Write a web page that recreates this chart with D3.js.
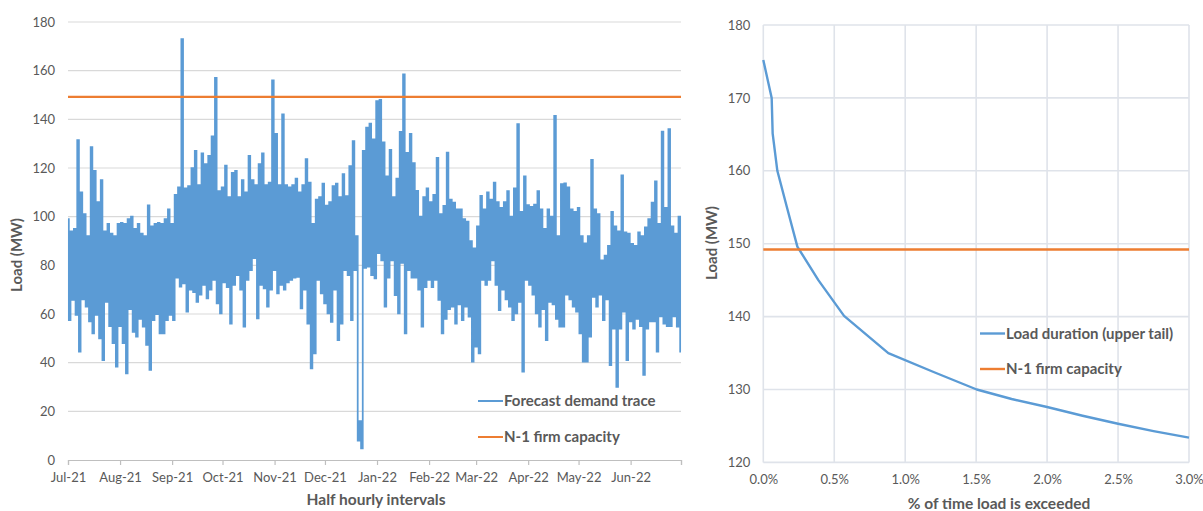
<!DOCTYPE html>
<html><head><meta charset="utf-8">
<script src="https://cdn.jsdelivr.net/npm/d3@7"></script>
<style>body{margin:0;background:#fff} text{font-family:Lato,"Open Sans",sans-serif}</style>
</head><body><svg id="c" width="1203" height="511"></svg>
<script>
// ---------- DATA ----------
const firmCapacity = 149.2;
const traceStart = "2021-07-01";
const traceEnd = "2022-07-01";
const binDays = 2;
// max load within each 2-day bin (MW)
const traceHigh = [99,94,95,131.5,110,101,92,128.6,118.8,106,
115,94,97,93,92,97,97.5,97,99,100,
95,97,93,92,104.6,96,97,97.5,97,99,
103,97,109,112,173,111.6,112.6,120,127,113,
126,121.6,125,133,157,110.5,112,121,108,118,
118.8,108,115,110,125,115,113,121.6,126,113,
114,156,134,113,142,113,112,113,115.6,110,
113,123.6,114,97,107,108,113.6,104.5,106,112.6,
113.6,108,117.5,108.4,120.8,131,92,16,127,136.6,
138.2,131.8,147.5,148,130.5,116.6,127.5,108,115.6,134.8,
158.5,126.2,134,122,110.6,100,108,111.6,106,109,
124.2,101,104.4,126.3,107,105.8,103,103,99,98,
90,87,96,108.5,103,110,107,114,106,103.6,
106,110.5,100,111.6,138,102,116.6,104.7,104,105,
110.5,103,95,103,100,141.4,92,113.4,113.7,112,
103,102,103.6,92,89,92,123.3,103,101,82,
84,88,102,96,94,117,93.5,93,88.8,88,
93.5,92,95.6,99,105.8,114.5,97,135,103.6,136,
96,93,100];
// min load within each 2-day bin (MW)
const traceLow = [57.5,65.8,59.6,44.5,66,63,57,52,59.6,50,
41,65,55,48,38.4,55,48,35.6,62,52.7,
50.7,58,54.8,47.3,37,57.5,60,52,52,57.5,
59.6,57.5,75,71.2,72.6,61,70,69,65,68,
72,66.4,70,74,64.4,60.3,73,71,56,72,
76,70,54.8,74,78,83,58.2,72,70.5,63,
70,78,68.5,72,70,73,74,75,75.3,62.3,
70,56,37.7,43.8,74,68.5,64.4,60.3,56.8,70,
49.3,56,78,76,57.5,78,8,4.8,79,79.5,
76,74.6,85,82,63,75,82,67.8,60.3,81,
52,78,75,75,70,54.8,71,74,71,74,
65.8,52,58,62,63,56,64,57.5,63,58.9,
40.4,46.6,43.8,74,72,74,82,72,61.6,70,
66,63,57.5,60.3,65,36.3,74,72,68,60.3,
54.8,62,49.3,65,64,58,54.8,54.8,68,66,
63,61,52,40.4,40.4,50.7,67,63,68,57.5,
66,39,54,30.1,54,61,41,57,54,58,
55,35,54,57,57,44.5,59,56,55,55,
59,54.8,44.5];
const leftYTicks = [0,20,40,60,80,100,120,140,160,180];
const leftSeries = ["Forecast demand trace","N-1 firm capacity"];

const durationPct  = [0, 0.059, 0.066, 0.099, 0.165, 0.24, 0.388, 0.569, 0.881, 1.2, 1.504, 1.75, 2.0, 2.25, 2.5, 2.75, 3.0];
const durationLoad = [175.2, 170, 165.1, 160, 155.1, 149.6, 145, 140.1, 135, 132.4, 130, 128.7, 127.6, 126.4, 125.3, 124.3, 123.4];
const rightXTicks = [0,0.5,1.0,1.5,2.0,2.5,3.0];
const rightYTicks = [120,130,140,150,160,170,180];
const rightSeries = ["Load duration (upper tail)","N-1 firm capacity"];

// ---------- STYLE ----------
const BLUE = "#5b9bd5", ORANGE = "#ed7d31", TXT = "#595959";
const svg = d3.select("#c");

// ---------- LEFT CHART ----------
const parse = d3.timeParse("%Y-%m-%d");
const t0 = parse(traceStart), t1 = parse(traceEnd);
const xL = d3.scaleTime().domain([t0, t1]).range([68, 681]);
const yL = d3.scaleLinear().domain([0, 180]).range([460, 22]);

const gL = svg.append("g");
gL.selectAll("line.grid").data(leftYTicks.filter(d => d > 0)).join("line")
  .attr("x1", 68).attr("x2", 681).attr("y1", d => yL(d)).attr("y2", d => yL(d))
  .attr("stroke", "#d9d9d9").attr("stroke-width", 1.2);

const xAxisL = d3.axisBottom(xL).ticks(d3.timeMonth.every(1)).tickSize(5)
  .tickFormat(d => d >= t1 ? "" : d3.timeFormat("%b-%y")(d));
const ax = gL.append("g").attr("transform", "translate(0,460)").call(xAxisL);
ax.select(".domain").attr("stroke", "#bfbfbf").attr("stroke-width", 1.2);
ax.selectAll(".tick line").attr("stroke", "#bfbfbf").attr("stroke-width", 1.2);
ax.selectAll(".tick text").attr("fill", TXT).attr("font-size", 13).attr("dy", "1.1em")
  .style("font-family", "Lato");

const yAxisL = d3.axisLeft(yL).tickValues(leftYTicks).tickSize(0).tickPadding(13);
const ay = gL.append("g").attr("transform", "translate(68,0)").call(yAxisL);
ay.select(".domain").remove();
ay.selectAll(".tick text").attr("fill", TXT).attr("font-size", 13).style("font-family", "Lato");

// trace through bin maxima/minima (vertical strokes per bin)
const pts = [];
traceHigh.forEach((h, i) => {
  pts.push([d3.timeDay.offset(t0, i * binDays), h]);
  pts.push([d3.timeDay.offset(t0, i * binDays + 1), traceLow[i]]);
});
const lineL = d3.line().x(d => xL(d[0])).y(d => yL(d[1])).curve(d3.curveStep);
gL.append("path").datum(pts).attr("d", lineL).attr("fill", "none")
  .attr("stroke", BLUE).attr("stroke-width", 1.75).attr("stroke-linejoin", "miter");

gL.append("line").attr("x1", xL(t0)).attr("x2", xL(t1))
  .attr("y1", yL(firmCapacity)).attr("y2", yL(firmCapacity))
  .attr("stroke", ORANGE).attr("stroke-width", 2.2);

// legend left
const legL = gL.append("g");
[[leftSeries[0], BLUE, 401], [leftSeries[1], ORANGE, 437]].forEach(([t, c, y]) => {
  legL.append("line").attr("x1", 478).attr("x2", 503).attr("y1", y).attr("y2", y)
    .attr("stroke", c).attr("stroke-width", 2);
  legL.append("text").attr("x", 504).attr("y", y).attr("dy", "0.35em")
    .attr("fill", TXT).attr("font-size", 15).attr("font-weight", "bold").text(t);
});

gL.append("text").attr("transform", "translate(22,255) rotate(-90)")
  .attr("text-anchor", "middle").attr("fill", TXT).attr("font-size", 15)
  .attr("font-weight", "bold").text("Load (MW)");
gL.append("text").attr("x", 376).attr("y", 505).attr("text-anchor", "middle")
  .attr("fill", TXT).attr("font-size", 15.5).attr("font-weight", "bold").text("Half hourly intervals");

// ---------- RIGHT CHART ----------
const xR = d3.scaleLinear().domain([0, 3]).range([763.3, 1189]);
const yR = d3.scaleLinear().domain([120, 180]).range([462.4, 25]);
const gR = svg.append("g");
const GRID = "#dfe3ea";
gR.selectAll("line.h").data(rightYTicks).join("line")
  .attr("x1", xR(0)).attr("x2", xR(3)).attr("y1", d => yR(d)).attr("y2", d => yR(d))
  .attr("stroke", GRID).attr("stroke-width", 1.6);
gR.selectAll("line.v").data(rightXTicks).join("line")
  .attr("y1", yR(120)).attr("y2", yR(180)).attr("x1", d => xR(d)).attr("x2", d => xR(d))
  .attr("stroke", GRID).attr("stroke-width", 1.6);

const axR = gR.append("g").attr("transform", `translate(0,${yR(120)})`)
  .call(d3.axisBottom(xR).tickValues(rightXTicks).tickSize(0).tickPadding(12).tickFormat(d => d.toFixed(1) + "%"));
axR.select(".domain").remove();
axR.selectAll(".tick text").attr("fill", TXT).attr("font-size", 13).style("font-family", "Lato");
const ayR = gR.append("g").attr("transform", `translate(${xR(0)},0)`)
  .call(d3.axisLeft(yR).tickValues(rightYTicks).tickSize(0).tickPadding(13));
ayR.select(".domain").remove();
ayR.selectAll(".tick text").attr("fill", TXT).attr("font-size", 13).style("font-family", "Lato");

const lineR = d3.line().x((d, i) => xR(durationPct[i])).y(d => yR(d));
gR.append("path").datum(durationLoad).attr("d", lineR).attr("fill", "none")
  .attr("stroke", BLUE).attr("stroke-width", 2.4).attr("stroke-linejoin", "round");
gR.append("line").attr("x1", xR(0)).attr("x2", xR(3))
  .attr("y1", yR(firmCapacity)).attr("y2", yR(firmCapacity))
  .attr("stroke", ORANGE).attr("stroke-width", 2.4);

const legR = gR.append("g");
[[rightSeries[0], BLUE, 333.5], [rightSeries[1], ORANGE, 369]].forEach(([t, c, y]) => {
  legR.append("line").attr("x1", 980).attr("x2", 1005).attr("y1", y).attr("y2", y)
    .attr("stroke", c).attr("stroke-width", 2.4);
  legR.append("text").attr("x", 1006).attr("y", y).attr("dy", "0.35em")
    .attr("fill", TXT).attr("font-size", 15).attr("font-weight", "bold").text(t);
});

gR.append("text").attr("transform", "translate(717,243) rotate(-90)")
  .attr("text-anchor", "middle").attr("fill", TXT).attr("font-size", 15)
  .attr("font-weight", "bold").text("Load (MW)");
gR.append("text").attr("x", 999).attr("y", 509).attr("text-anchor", "middle")
  .attr("fill", TXT).attr("font-size", 15.5).attr("font-weight", "bold").text("% of time load is exceeded");
</script></body></html>
